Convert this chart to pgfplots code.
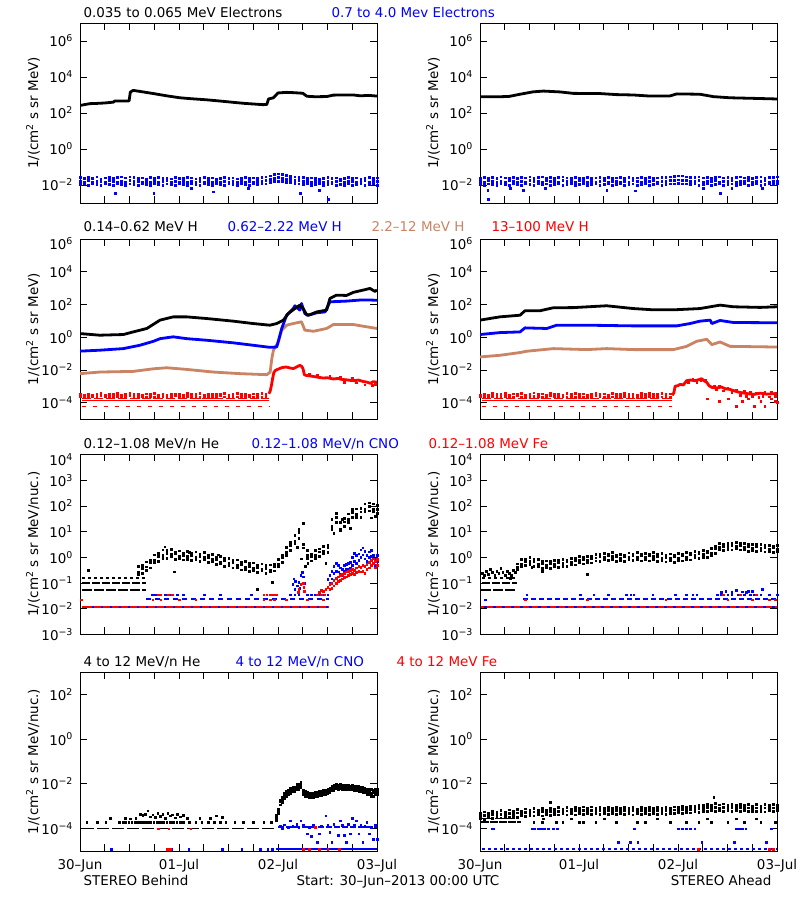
\documentclass[border=0pt]{standalone}
\usepackage{fontspec}
\setmainfont{DejaVu Sans}
\usepackage{pgfplots}
\usepackage{pgfplotstable}
\pgfplotsset{compat=1.18}
\definecolor{brn}{RGB}{202,132,100}
\newcommand{\F}{\fontsize{13.5}{15}\selectfont}
\newcommand{\tl}[1]{\mbox{10\textsuperscript{#1}}}
\newcommand{\tlt}[1]{\raisebox{-5bp}[\height][\depth]{\tl{#1}}}

\pgfplotsset{
 every axis/.append style={scale only axis, width=297bp, height=180bp, anchor=south west,
   xmin=0, xmax=72, xtick={0,6,...,72},
   xminorticks=false, yminorticks=false, tick align=inside, major tick length=7bp,
   xtick pos=both, ytick pos=both, axis line style={line width=0.8bp},
   tick style={line width=0.8bp, black}, tick label style={font=\F},
   yticklabel style={xshift=-3.5bp}, xticklabel style={yshift=-5bp}},
 mydots/.style={only marks, mark=square*, mark size=0.85bp, mark options={solid, line width=0.1pt}},
 mysline/.style={line width=2.8bp, line join=round},
}

\pgfplotstableread{
h a b c
0 .027 .017 .011
1 .024 .015 .012
2 .028 .018 .010
3 .025 .014 .012
4 .029 .016 .011
5 .023 .017 .010
6 .026 .015 .012
7 .028 .018 .011
8 .025 .016 .010
9 .027 .014 .012
10 .030 .017 .011
11 .026 .015 .010
12 .029 .018 .012
13 .027 .016 .011
14 .024 .017 .010
15 .026 .015 .012
16 .023 .016 .011
17 .027 .014 .010
18 .025 .017 .012
19 .028 .015 .011
20 .024 .016 .010
21 .026 .018 .012
22 .023 .015 .011
23 .027 .017 .010
24 .025 .014 .012
25 .024 .016 .011
26 .028 .015 .010
27 .026 .017 .012
28 .023 .014 .011
29 .025 .016 .010
30 .027 .015 .012
31 .024 .017 .011
32 .026 .014 .010
33 .023 .016 .012
34 .025 .015 .011
35 .027 .017 .010
36 .024 .014 .012
37 .026 .016 .011
38 .023 .015 .010
39 .025 .017 .012
40 .028 .014 .011
41 .024 .016 .010
42 .026 .015 .012
43 .025 .017 .011
44 .027 .016 .012
45 .029 .018 .012
46 .034 .021 .014
47 .040 .025 .016
48 .043 .027 .017
49 .039 .024 .016
50 .035 .022 .015
51 .032 .021 .014
52 .030 .019 .013
53 .028 .018 .012
54 .027 .017 .011
55 .025 .016 .012
56 .026 .015 .010
57 .024 .017 .011
58 .023 .016 .012
59 .025 .014 .010
60 .027 .017 .011
61 .024 .015 .012
62 .026 .016 .010
63 .023 .018 .011
64 .025 .015 .010
65 .027 .016 .012
66 .024 .017 .010
67 .026 .014 .011
68 .023 .016 .012
69 .025 .018 .010
70 .028 .015 .011
71 .024 .017 .012
72 .026 .016 .010
}\tOneL

\pgfplotstableread{
h a b c
0 .025 .017 .011
1 .028 .015 .010
2 .024 .018 .012
3 .027 .016 .011
4 .025 .014 .010
5 .029 .017 .012
6 .026 .015 .011
7 .024 .018 .010
8 .027 .016 .012
9 .025 .015 .011
10 .028 .017 .010
11 .026 .014 .012
12 .029 .018 .011
13 .025 .016 .010
14 .027 .017 .012
15 .030 .015 .011
16 .026 .018 .012
17 .028 .016 .010
18 .025 .017 .011
19 .027 .015 .012
20 .029 .018 .010
21 .026 .016 .011
22 .024 .017 .012
23 .028 .015 .010
24 .026 .018 .011
25 .025 .016 .012
26 .027 .014 .010
27 .024 .017 .011
28 .026 .015 .012
29 .028 .016 .010
30 .025 .018 .011
31 .027 .015 .012
32 .024 .017 .010
33 .026 .016 .011
34 .028 .014 .012
35 .025 .017 .010
36 .027 .015 .011
37 .024 .018 .012
38 .026 .016 .010
39 .028 .015 .011
40 .025 .017 .012
41 .027 .016 .010
42 .024 .018 .011
43 .026 .015 .012
44 .028 .017 .010
45 .027 .016 .011
46 .029 .018 .012
47 .031 .019 .012
48 .034 .020 .013
49 .033 .019 .012
50 .030 .018 .012
51 .028 .017 .011
52 .027 .016 .012
53 .029 .018 .010
54 .026 .015 .011
55 .028 .017 .012
56 .025 .016 .010
57 .027 .018 .011
58 .029 .015 .012
59 .026 .017 .010
60 .028 .016 .011
61 .025 .018 .012
62 .027 .015 .010
63 .029 .017 .011
64 .026 .016 .012
65 .028 .018 .010
66 .025 .015 .011
67 .027 .017 .012
68 .030 .016 .010
69 .026 .018 .011
70 .028 .015 .012
71 .027 .017 .011
72 .029 .016 .012
}\tOneR

\pgfplotstableread{
h a b
0 3.4e-4 2.5e-4
1 3.0e-4 2.3e-4
2 3.6e-4 2.6e-4
3 3.1e-4 2.4e-4
4 3.3e-4 2.2e-4
5 3.8e-4 2.7e-4
6 3.0e-4 2.4e-4
7 3.5e-4 2.5e-4
8 3.2e-4 2.3e-4
9 3.7e-4 2.6e-4
10 3.1e-4 2.4e-4
11 3.4e-4 2.2e-4
12 3.9e-4 2.7e-4
13 3.2e-4 2.5e-4
14 3.5e-4 2.3e-4
15 3.0e-4 2.6e-4
16 3.6e-4 2.4e-4
17 3.3e-4 2.5e-4
18 3.8e-4 2.3e-4
19 3.1e-4 2.6e-4
20 3.4e-4 2.4e-4
21 3.0e-4 2.2e-4
22 3.6e-4 2.5e-4
23 3.3e-4 2.7e-4
24 3.5e-4 2.4e-4
25 3.1e-4 2.3e-4
26 3.7e-4 2.6e-4
27 3.2e-4 2.4e-4
28 3.4e-4 2.5e-4
29 3.9e-4 2.3e-4
30 3.1e-4 2.6e-4
31 3.5e-4 2.4e-4
32 3.2e-4 2.2e-4
33 3.6e-4 2.5e-4
34 3.3e-4 2.7e-4
35 3.8e-4 2.4e-4
36 3.0e-4 2.3e-4
37 3.4e-4 2.6e-4
38 3.7e-4 2.4e-4
39 3.2e-4 2.5e-4
40 3.5e-4 2.3e-4
41 3.1e-4 2.6e-4
42 3.6e-4 2.4e-4
43 3.3e-4 2.5e-4
44 3.8e-4 2.3e-4
45 3.4e-4 2.6e-4
}\tTwoLr

\pgfplotstableread{
h a b
0 3.1e-4 2.4e-4
1 3.5e-4 2.6e-4
2 3.0e-4 2.3e-4
3 3.7e-4 2.5e-4
4 3.2e-4 2.4e-4
5 3.4e-4 2.2e-4
6 3.9e-4 2.6e-4
7 3.1e-4 2.5e-4
8 3.6e-4 2.3e-4
9 3.3e-4 2.7e-4
10 3.8e-4 2.4e-4
11 3.0e-4 2.5e-4
12 3.5e-4 2.3e-4
13 4.2e-4 2.6e-4
14 3.2e-4 2.4e-4
15 3.6e-4 2.2e-4
16 3.1e-4 2.5e-4
17 3.8e-4 2.7e-4
18 3.3e-4 2.4e-4
19 3.5e-4 2.3e-4
20 3.0e-4 2.6e-4
21 3.7e-4 2.4e-4
22 3.4e-4 2.5e-4
23 3.9e-4 2.3e-4
24 3.2e-4 2.6e-4
25 3.6e-4 2.4e-4
26 3.1e-4 2.2e-4
27 3.5e-4 2.5e-4
28 3.8e-4 2.7e-4
29 3.3e-4 2.4e-4
30 3.6e-4 2.3e-4
31 3.0e-4 2.6e-4
32 4.0e-4 2.4e-4
33 3.4e-4 2.5e-4
34 3.2e-4 2.3e-4
35 3.7e-4 2.6e-4
36 3.3e-4 2.4e-4
37 3.6e-4 2.5e-4
38 3.1e-4 2.2e-4
39 3.9e-4 2.6e-4
40 3.4e-4 2.4e-4
41 3.7e-4 2.5e-4
42 3.2e-4 2.3e-4
43 3.5e-4 2.6e-4
44 3.8e-4 2.4e-4
45 3.3e-4 2.5e-4
46 3.6e-4 2.3e-4
}\tTwoRr

\pgfplotstableread{
h a b c
14 .45 .28 .22
15 .50 .38 .24
16 .68 .44 .33
17 .78 .62 .40
18 1.3 .80 .64
19 1.5 1.15 .72
20 2.0 1.2 .95
21 1.9 1.45 .92
22 2.1 1.35 1.1
23 1.7 1.4 .88
24 1.85 1.15 .92
25 1.5 1.25 .82
26 1.8 1.1 .88
27 1.45 1.2 .78
28 1.7 1.05 .84
29 1.35 1.1 .70
30 1.6 1.0 .86
31 1.3 1.02 .66
32 1.38 .85 .68
33 1.05 .86 .54
34 1.12 .68 .58
35 .92 .75 .46
36 .96 .60 .50
37 .80 .64 .40
38 .82 .52 .43
39 .68 .54 .34
40 .70 .43 .36
41 .60 .47 .30
42 .63 .40 .32
43 .53 .42 .27
44 .58 .37 .31
45 .50 .39 .25
46 .53 .34 .28
47 .58 .46 .31
48 .86 .55 .44
49 1.25 1.0 .66
50 2.5 1.6 1.25
51 4.0 3.1 1.9
52 7.5 4.5 3.5
53 13 9.5 5.5
54 21 3.3 2.4
55 1.9 1.2 .95
56 1.4 1.15 .75
57 1.9 1.2 .95
58 2.2 1.7 1.1
59 2.7 1.8 1.45
60 3.0 2.5 1.6
61 30 17 13
62 52 37 23
63 24 13 11
64 33 25 16
65 50 30 23
66 76 58 38
67 80 47 38
68 82 61 38
69 125 80 63
70 135 100 66
71 125 80 63
72 105 78 52
}\tThreeL

\pgfplotstableread{
h a b
60 0.14 0.07
60.5 0.2 0.1
61 0.3 0.15
61.5 0.45 0.25
62 0.6 0.3
62.5 0.5 0.28
63 0.4 0.22
63.5 0.35 0.2
64 0.5 0.3
64.5 0.55 0.35
65 0.6 0.35
65.5 0.65 0.4
66 1.0 0.5
66.5 1.5 0.7
67 1.2 0.6
67.5 1.4 0.8
68 2.0 1.0
68.5 2.4 1.3
69 1.8 0.9
69.5 1.2 0.7
70 1.7 1.0
70.5 1.9 1.1
71 1.2 0.6
71.5 0.9 0.5
72 1.2 0.7
}\tThreeLb

\pgfplotstableread{
h a b
60.5 0.09 0.06
61 0.1 0.065
61.5 0.13 0.08
62 0.16 0.1
62.5 0.18 0.12
63 0.2 0.13
63.5 0.22 0.15
64 0.25 0.17
64.5 0.28 0.18
65 0.3 0.2
65.5 0.32 0.22
66 0.35 0.25
66.5 0.33 0.23
67 0.4 0.26
67.5 0.45 0.3
68 0.42 0.28
68.5 0.5 0.3
69 0.45 0.25
69.5 0.55 0.35
70 0.65 0.4
70.5 0.8 0.5
71 0.9 0.6
71.5 0.7 0.4
72 0.85 0.5
}\tThreeLr

\pgfplotstableread{
h a b c
9 .58 .42 .34
10 .84 .58 .45
11 .88 .72 .50
12 1.0 .70 .54
13 .85 .69 .46
14 .86 .57 .47
15 .72 .60 .39
16 .76 .52 .41
17 .74 .60 .39
18 .81 .57 .46
19 .78 .64 .42
20 .85 .60 .47
21 .83 .69 .45
22 .95 .67 .53
23 .96 .78 .52
24 1.09 .77 .62
25 1.05 .85 .57
26 1.15 .82 .66
27 1.16 .95 .63
28 1.35 .97 .76
29 1.33 1.08 .72
30 1.50 1.06 .84
31 1.41 1.16 .78
32 1.58 1.10 .88
33 1.30 1.08 .72
34 1.38 .95 .76
35 1.30 1.12 .72
36 1.54 1.03 .84
37 1.40 1.19 .78
38 1.58 1.08 .88
39 1.37 1.17 .76
40 1.51 1.04 .83
41 1.36 1.16 .76
42 1.58 1.09 .88
43 1.34 1.15 .74
44 1.45 .99 .79
45 1.23 1.06 .68
46 1.40 .94 .77
47 1.24 1.07 .67
48 1.46 .99 .80
49 1.35 1.17 .76
50 1.58 1.08 .88
51 1.48 1.27 .82
52 1.79 1.23 .98
53 1.66 1.43 .93
54 1.90 1.32 1.04
55 1.85 1.58 1.05
56 2.25 1.51 1.2
57 2.7 2.3 1.5
58 3.5 2.5 2.0
59 3.4 2.8 1.9
60 3.7 2.7 2.1
61 3.7 3.0 2.0
62 4.0 2.9 2.3
63 3.7 3.0 2.0
64 3.6 2.6 2.1
65 3.3 2.7 1.8
66 3.3 2.4 1.9
67 3.2 2.6 1.75
68 3.2 2.3 1.85
69 3.0 2.5 1.7
70 3.1 2.2 1.8
71 2.9 2.4 1.65
72 3.0 2.2 1.75
}\tThreeR

\pgfplotstableread{
h a b c
47.5 4e-4 2.5e-4 3.2e-4
48 8e-4 5e-4 6.5e-4
48.5 1.6e-3 1.2e-3 2.0e-3
49 2.7e-3 1.5e-3 2.1e-3
49.5 3.0e-3 2.3e-3 3.8e-3
50 4.8e-3 2.9e-3 3.6e-3
50.5 4.6e-3 3.6e-3 5.6e-3
51 6.4e-3 3.9e-3 5.0e-3
51.5 6.0e-3 4.7e-3 7.5e-3
52 7.6e-3 4.8e-3 6.0e-3
52.5 7.4e-3 5.7e-3 9.5e-3
53 9.8e-3 5.8e-3 7.5e-3
53.5 1.2e-2 6.8e-3 9e-3
54 5.5e-3 3.6e-3 4.5e-3
54.5 4.8e-3 2.9e-3 3.7e-3
55 3.7e-3 2.9e-3 4.4e-3
55.5 4.1e-3 2.5e-3 3.2e-3
56 3.3e-3 2.6e-3 4.0e-3
56.5 4.0e-3 2.6e-3 3.2e-3
57 3.7e-3 2.9e-3 4.5e-3
57.5 4.2e-3 2.8e-3 3.4e-3
58 3.9e-3 3.1e-3 4.8e-3
58.5 4.8e-3 3.1e-3 3.8e-3
59 4.5e-3 3.4e-3 5.3e-3
59.5 5.4e-3 3.4e-3 4.2e-3
60 5.1e-3 3.9e-3 6.0e-3
60.5 6.9e-3 4.4e-3 5.4e-3
61 7.0e-3 5.2e-3 8.5e-3
61.5 8.6e-3 5.4e-3 6.6e-3
62 7.9e-3 6.2e-3 9.5e-3
62.5 8.7e-3 5.8e-3 7.0e-3
63 7.9e-3 6.4e-3 9.8e-3
63.5 8.8e-3 5.8e-3 7.1e-3
64 7.5e-3 6.0e-3 9.2e-3
64.5 8.9e-3 5.8e-3 7.0e-3
65 7.4e-3 5.7e-3 9.0e-3
65.5 8.4e-3 5.6e-3 6.8e-3
66 7.4e-3 5.7e-3 9.0e-3
66.5 8.1e-3 5.0e-3 6.3e-3
67 6.5e-3 5.2e-3 8.2e-3
67.5 7.8e-3 4.6e-3 5.8e-3
68 6.0e-3 4.7e-3 7.5e-3
68.5 7.3e-3 4.4e-3 5.6e-3
69 5.5e-3 4.2e-3 6.8e-3
69.5 6.0e-3 3.3e-3 4.3e-3
70 4.6e-3 3.4e-3 5.8e-3
70.5 6.0e-3 2.9e-3 3.9e-3
71 4.2e-3 2.9e-3 5.3e-3
71.5 6.0e-3 3.3e-3 4.4e-3
72 4.6e-3 3.6e-3 5.7e-3
}\tFourL

\pgfplotstableread{
h a b c
0 5.0e-4 3.6e-4 2.9e-4
1 5.8e-4 4.1e-4 2.7e-4
2 5.0e-4 3.9e-4 3.1e-4
3 6.3e-4 4.4e-4 2.9e-4
4 5.4e-4 4.2e-4 3.3e-4
5 6.6e-4 4.6e-4 3.1e-4
6 5.8e-4 4.4e-4 3.5e-4
7 7.1e-4 4.9e-4 3.2e-4
8 6.1e-4 4.7e-4 3.7e-4
9 7.3e-4 5.2e-4 3.4e-4
10 6.4e-4 5.0e-4 3.9e-4
11 7.8e-4 5.5e-4 3.6e-4
12 6.8e-4 5.3e-4 4.1e-4
13 8.1e-4 5.8e-4 3.8e-4
14 7.0e-4 5.5e-4 4.3e-4
15 8.4e-4 6.0e-4 3.9e-4
16 7.2e-4 5.7e-4 4.4e-4
17 8.6e-4 6.2e-4 4.0e-4
18 7.5e-4 5.8e-4 4.6e-4
19 8.9e-4 6.3e-4 4.2e-4
20 7.7e-4 6.0e-4 4.7e-4
21 9.0e-4 6.4e-4 4.2e-4
22 7.9e-4 6.1e-4 4.8e-4
23 9.4e-4 6.6e-4 4.3e-4
24 8.2e-4 6.3e-4 4.9e-4
25 9.6e-4 6.8e-4 4.4e-4
26 8.4e-4 6.5e-4 5.1e-4
27 9.8e-4 7.0e-4 4.6e-4
28 8.5e-4 6.5e-4 5.1e-4
29 9.4e-4 6.8e-4 4.5e-4
30 8.3e-4 6.4e-4 5.0e-4
31 9.5e-4 6.7e-4 4.4e-4
32 8.2e-4 6.3e-4 4.9e-4
33 9.3e-4 6.7e-4 4.4e-4
34 8.1e-4 6.3e-4 5.0e-4
35 9.4e-4 6.7e-4 4.4e-4
36 8.2e-4 6.3e-4 4.9e-4
37 9.2e-4 6.6e-4 4.3e-4
38 8.0e-4 6.2e-4 4.9e-4
39 9.1e-4 6.6e-4 4.4e-4
40 8.1e-4 6.3e-4 4.9e-4
41 9.3e-4 6.7e-4 4.4e-4
42 8.2e-4 6.3e-4 5.0e-4
43 9.4e-4 6.8e-4 4.5e-4
44 8.3e-4 6.4e-4 5.0e-4
45 9.5e-4 6.8e-4 4.5e-4
46 8.6e-4 6.6e-4 5.1e-4
47 9.8e-4 7.1e-4 4.8e-4
48 8.9e-4 6.8e-4 5.3e-4
49 1.02e-3 7.4e-4 5.0e-4
50 9.3e-4 7.1e-4 5.5e-4
51 1.05e-3 7.7e-4 5.2e-4
52 1.0e-3 7.6e-4 5.8e-4
53 1.15e-3 8.4e-4 5.7e-4
54 1.1e-3 8.3e-4 6.3e-4
55 1.3e-3 8.9e-4 6.1e-4
56 1.16e-3 8.7e-4 6.6e-4
57 1.35e-3 9.2e-4 6.3e-4
58 1.18e-3 8.8e-4 6.7e-4
59 1.33e-3 9.2e-4 6.2e-4
60 1.16e-3 8.8e-4 6.7e-4
61 1.3e-3 9.1e-4 6.2e-4
62 1.14e-3 8.6e-4 6.5e-4
63 1.27e-3 9.0e-4 6.2e-4
64 1.11e-3 8.5e-4 6.4e-4
65 1.25e-3 8.8e-4 6.1e-4
66 1.08e-3 8.3e-4 6.3e-4
67 1.23e-3 8.7e-4 6.0e-4
68 1.08e-3 8.3e-4 6.3e-4
69 1.25e-3 8.7e-4 5.8e-4
70 1.1e-3 8.3e-4 6.4e-4
71 1.25e-3 8.7e-4 5.9e-4
72 1.1e-3 8.3e-4 6.4e-4
}\tFourR

\begin{document}
\begin{tikzpicture}[font=\F]
\path[use as bounding box, fill=white] (0,0) rectangle (800bp,900bp);

% ---------------- Row 1 left
\begin{axis}[at={(80bp,697bp)}, ymode=log, ymin=1e-3, ymax=1e7, ytick={1e-2,1,1e2,1e4,1e6},
   yticklabels={\tl{−2},\tl{0},\tl{2},\tl{4},\tl{6}}, xticklabels={}]
\addplot[mydots, blue] table[x=h,y=a]{\tOneL};
\addplot[mydots, blue] table[x=h,y=b]{\tOneL};
\addplot[mydots, blue] table[x=h,y=c]{\tOneL};
\addplot[mydots, blue] coordinates {(8.5,0.0035)(17.8,0.0035)(27,0.0065)(32.3,0.0043)(40.8,0.0065)(53.3,0.0035)(58,0.0053)(60.2,0.0016)};
\addplot[black, mysline] coordinates {(0,260)(1,290)(2.4,330)(4,340)(6,360)(8.1,400)(8.4,460)(11.9,470)(12.2,1450)(12.9,1800)(14,1650)(17.8,1200)(21,900)(24.2,700)(27,620)(30.7,540)(34,460)(37.2,390)(40,340)(44.4,290)(45.3,300)(45.7,600)(46.9,700)(48,1300)(50,1400)(51.7,1350)(54,1250)(55,850)(57,800)(59.8,820)(61.4,980)(63,1000)(66.3,1000)(68,900)(70,950)(72,870)};
\end{axis}

% ---------------- Row 1 right
\begin{axis}[at={(480bp,697bp)}, ymode=log, ymin=1e-3, ymax=1e7, ytick={1e-2,1,1e2,1e4,1e6},
   yticklabels={\tl{−2},\tl{0},\tl{2},\tl{4},\tl{6}}, xticklabels={}]
\addplot[mydots, blue] table[x=h,y=a]{\tOneR};
\addplot[mydots, blue] table[x=h,y=b]{\tOneR};
\addplot[mydots, blue] table[x=h,y=c]{\tOneR};
\addplot[mydots, blue] coordinates {(2,0.0016)(1.8,0.0052)(7.3,0.0065)(10.5,0.0052)(15.8,0.0065)(30.7,0.0052)(37.6,0.0050)(54.1,0.0065)(58.2,0.0035)(61,0.0065)(68.3,0.007)};
\addplot[black, mysline] coordinates {(0,800)(2,790)(4.8,800)(7,830)(9.7,1100)(12.9,1500)(15.4,1650)(19.4,1480)(22.6,1230)(29.1,1200)(33.1,1050)(37.2,1000)(41.2,870)(46,880)(47.7,1150)(53.3,1100)(56.6,810)(60.6,700)(66.3,650)(72,600)};
\end{axis}

% ---------------- Row 2 left
\begin{axis}[at={(80bp,481bp)}, ymode=log, ymin=1e-5, ymax=1e6, ytick={1e-4,1e-2,1,1e2,1e4,1e6},
   yticklabels={\tl{−4},\tl{−2},\tl{0},\tl{2},\tl{4},\tlt{6}}, xticklabels={}]
\addplot[mydots, red] table[x=h,y=a]{\tTwoLr};
\addplot[mydots, red] table[x=h,y=b]{\tTwoLr};
\addplot[red, line width=1.2bp, dash pattern=on 9bp off 3bp] coordinates {(0.4,1.85e-4)(45.8,1.85e-4)};
\addplot[red, line width=1.2bp] coordinates {(0.4,1.3e-4)(45.8,1.3e-4)};
\addplot[red, line width=1.2bp, dash pattern=on 4bp off 7bp] coordinates {(0.4,6e-5)(45.8,6e-5)};
\addplot[red, mysline] coordinates {(45.8,3.5e-4)(46.1,5e-4)(46.4,1.1e-3)(46.7,3e-3)(47.0,7e-3)(47.4,9.5e-3)(48,1.1e-2)(49,1.4e-2)(50,1.5e-2)(51,1.3e-2)(51.7,1.2e-2)(52.5,1.5e-2)(53.3,1.9e-2)(53.8,1.6e-2)(54.1,1.1e-2)(54.4,5e-3)(55,4.5e-3)(56,4.2e-3)(57,3.8e-3)(58.2,3.4e-3)(59,3.2e-3)(60,3.3e-3)(61.4,2.8e-3)(62.5,3e-3)(63.5,2.6e-3)(64.5,2.5e-3)(65.5,2.3e-3)(66.5,2.2e-3)(67.5,2.4e-3)(68.5,2e-3)(69.5,1.8e-3)(70.5,1.5e-3)(71,1.9e-3)(72,1.8e-3)};
\addplot[mydots, red] coordinates {(55.5,6e-3)(57.5,5e-3)(60.5,4.5e-3)(63,3.8e-3)(66,3.2e-3)(69,1.3e-3)(70.8,1.2e-3)(71.5,1.4e-3)(64,1.9e-3)(67,1.7e-3)};
\addplot[brn, mysline] coordinates {(0,0.0059)(4.8,0.0074)(12.9,0.0081)(17.8,0.0117)(21,0.0135)(25.9,0.0107)(32.3,0.0074)(38.8,0.0059)(45.3,0.0051)(46.1,0.0074)(46.5,0.049)(46.9,0.16)(48.1,0.51)(48.9,2.7)(50.1,5.4)(51.7,6.8)(53.7,8.7)(54.5,2.7)(56.6,2.3)(59.8,3.4)(61.4,5.9)(66.3,5.9)(69.5,4.3)(72,3.4)};
\addplot[blue, mysline] coordinates {(0,0.14)(4.8,0.16)(10.5,0.2)(14.5,0.32)(17.8,0.56)(19.4,0.81)(22.6,1.05)(25.9,0.81)(30.7,0.65)(37.2,0.45)(42,0.32)(46,0.24)(47.7,0.25)(48.9,3.4)(50.1,22)(51.7,56)(52.1,83)(53.3,45)(53.7,115)(54.5,28)(55.4,22)(57.4,31)(59.4,35)(60.6,145)(64.6,160)(67.9,186)(70.3,186)(72,180)};
\addplot[black, mysline] coordinates {(0,1.66)(4.8,1.32)(10.5,1.45)(12.9,2.1)(16.2,3.4)(19.4,11)(22.6,17.4)(25.9,17.4)(30.7,13.8)(37.2,9.5)(42,6.8)(46,5.4)(47.7,6.8)(49.3,11)(50.5,28)(52.1,56)(53.3,91)(54.1,56)(55,22)(55.8,24)(57.4,35)(59.8,45)(60.6,234)(62.2,370)(64.6,355)(66.3,550)(68.7,760)(70.3,950)(71.5,630)(72,760)};
\end{axis}

% ---------------- Row 2 right
\begin{axis}[at={(480bp,481bp)}, ymode=log, ymin=1e-5, ymax=1e6, ytick={1e-4,1e-2,1,1e2,1e4,1e6},
   yticklabels={\tl{−4},\tl{−2},\tl{0},\tl{2},\tl{4},\tlt{6}}, xticklabels={}]
\addplot[mydots, red] table[x=h,y=a]{\tTwoRr};
\addplot[mydots, red] table[x=h,y=b]{\tTwoRr};
\addplot[red, line width=1.2bp, dash pattern=on 9bp off 3bp] coordinates {(0.4,1.85e-4)(46.5,1.85e-4)};
\addplot[red, line width=1.2bp] coordinates {(0.4,1.3e-4)(46.5,1.3e-4)};
\addplot[red, line width=1.2bp, dash pattern=on 4bp off 7bp] coordinates {(0.4,6e-5)(46.5,6e-5)};
\addplot[red, mysline] coordinates {(46.6,2.8e-4)(47.0,4e-4)(47.3,1.0e-3)(48,1.1e-3)(48.5,1.3e-3)(49.3,1.2e-3)(50.1,2.2e-3)(51,2.4e-3)(52,2.2e-3)(53,2.5e-3)(53.7,2.9e-3)(54.3,2.2e-3)(55,1.7e-3)(55.5,1.1e-3)(56.2,8.5e-4)(57.5,8e-4)(58.5,9e-4)(59.5,7e-4)(60.5,6.5e-4)(61.4,5.5e-4)(62.5,4.5e-4)(63.5,4e-4)(65,3.5e-4)(66.5,3.2e-4)(68,3.8e-4)(69.5,3.3e-4)(71,3.5e-4)(72,3.6e-4)};
\addplot[mydots, red] coordinates {(50.5,1.8e-3)(51.5,2.8e-3)(52.5,1.9e-3)(53.5,2.2e-3)(54.6,2.6e-3)(56.8,1.1e-3)(57.2,6.5e-4)(58,1.0e-3)(59,5.5e-4)(60,8.5e-4)(61,4.5e-4)(62,6e-4)(63,3e-4)(64,5e-4)(64.5,2.6e-4)(65.5,4.6e-4)(66,2.5e-4)(67,4.2e-4)(67.5,2.3e-4)(68.5,2.6e-4)(69,4.5e-4)(70,2.4e-4)(70.5,4.3e-4)(71.5,2.5e-4)(55,1.8e-4)(58,1.3e-4)(60.2,1.8e-4)(62,6e-5)(63.5,1.3e-4)(65,1.8e-4)(66.5,6e-5)(68,1.3e-4)(69,6e-5)(70.5,1.8e-4)(71.5,1.3e-4)(72,1.1e-4)};
\addplot[brn, mysline] coordinates {(0,0.062)(4.8,0.078)(9.7,0.115)(11.3,0.138)(17.8,0.2)(25.9,0.174)(30.7,0.2)(37.2,0.174)(46.9,0.174)(50.1,0.275)(52.5,0.56)(55,0.74)(56.2,0.35)(58.2,0.51)(60.6,0.275)(72,0.25)};
\addplot[blue, mysline] coordinates {(0,1.45)(4.8,1.9)(9.7,2.1)(10.9,3.7)(16.2,3.4)(18.6,5.4)(25.9,5.4)(37.2,4.9)(47.7,4.9)(50.9,6.8)(53.3,9.5)(55.8,11)(56.2,6.8)(58.2,10.5)(61.4,7.9)(72,7.6)};
\addplot[black, mysline] coordinates {(0,11)(4.8,17.4)(9.7,22)(10.9,41)(14.5,41)(17.8,63)(22.6,64)(30.7,83)(37.2,56)(42,47)(47.7,48)(53.3,56)(58.2,91)(61.4,72)(67.9,66)(72,72)};
\end{axis}

% ---------------- Row 3 left
\begin{axis}[at={(80bp,265.5bp)}, ymode=log, ymin=1e-3, ymax=1e4, ytick={1e-3,1e-2,1e-1,1,1e1,1e2,1e3,1e4},
   yticklabels={\tl{−3},\tl{−2},\tl{−1},\tl{0},\tl{1},\tl{2},\tl{3},\tlt{4}}, xticklabels={}]
\addplot[red, line width=2bp] coordinates {(0.6,0.0118)(60.3,0.0118)};
\addplot[blue, line width=2bp, dash pattern=on 2bp off 7bp] coordinates {(3,0.0118)(60.3,0.0118)};
\addplot[blue, line width=2bp, dash pattern=on 5bp off 4bp] coordinates {(16,0.023)(60.3,0.023)};
\addplot[mydots, red] coordinates {(0.2,0.023)(17.6,0.023)(19.5,0.023)(24,0.023)(28,0.023)(44.5,0.023)(46,0.023)(47,0.023)(50,0.023)(55,0.023)(59,0.023)};
\addplot[mydots, blue] coordinates {(17.4,0.036)(18,0.036)(18.6,0.036)(20.6,0.036)(22,0.036)(23.5,0.036)(25,0.036)(30,0.036)(34,0.036)(41.5,0.036)(51,0.036)(52,0.036)(53,0.036)(55,0.036)(56,0.036)(57,0.036)(58,0.036)(59,0.036)(60,0.036)};
\addplot[mydots, red] coordinates {(19,0.036)(19.5,0.036)(21.3,0.036)(22.3,0.036)(44.5,0.036)(45.2,0.036)(46,0.036)(46.8,0.036)(47.5,0.036)(57.5,0.036)(58.5,0.036)(59.3,0.036)};
\addplot[black, line width=2bp, dash pattern=on 8bp off 2bp] coordinates {(0.6,0.105)(16,0.105)};
\addplot[black, line width=2bp, dash pattern=on 10bp off 2bp] coordinates {(0.6,0.054)(16,0.054)};
\addplot[black, line width=1.6bp, dash pattern=on 3bp off 3bp] coordinates {(0.6,0.155)(16,0.155)};
\addplot[mydots, black] table[x=h,y=a]{\tThreeL};
\addplot[mydots, black] table[x=h,y=b]{\tThreeL};
\addplot[mydots, black] table[x=h,y=c]{\tThreeL};
\addplot[mydots, black] coordinates {(2,0.33)(22.8,0.28)(43,0.058)(46.6,0.11)(54.5,0.45)(55.2,0.6)(53.6,0.9)(52.6,2.5)(59.5,0.6)(61.5,9)(63.5,30)(65.5,14)(70.5,35)(71.5,40)(20.5,2.6)(26.5,1.6)(33.5,1.3)};
\addplot[mydots, blue] coordinates {(51.5,0.09)(51.8,0.15)(52.2,0.12)(52.6,0.08)(53,0.11)(53.5,0.2)(53.8,0.26)(54.1,0.18)(54.3,0.1)(52,0.06)(53.2,0.065)};
\addplot[mydots, blue] table[x=h,y=a]{\tThreeLb};
\addplot[mydots, blue] table[x=h,y=b]{\tThreeLb};
\addplot[mydots, red] coordinates {(53,0.06)(53.5,0.09)(54,0.1)(54.2,0.07)(52.8,0.045)(54.4,0.05)(58,0.045)(58.5,0.055)(59,0.05)(59.5,0.06)(60,0.07)};
\addplot[mydots, red] table[x=h,y=a]{\tThreeLr};
\addplot[mydots, red] table[x=h,y=b]{\tThreeLr};
\end{axis}

% ---------------- Row 3 right
\begin{axis}[at={(480bp,265.5bp)}, ymode=log, ymin=1e-3, ymax=1e4, ytick={1e-3,1e-2,1e-1,1,1e1,1e2,1e3,1e4},
   yticklabels={\tl{−3},\tl{−2},\tl{−1},\tl{0},\tl{1},\tl{2},\tl{3},\tlt{4}}, xticklabels={}]
\addplot[red, line width=2bp] coordinates {(0.3,0.0118)(72,0.0118)};
\addplot[blue, line width=2bp, dash pattern=on 3bp off 6bp] coordinates {(1,0.0118)(72,0.0118)};
\addplot[blue, line width=2bp, dash pattern=on 5bp off 3bp] coordinates {(10.5,0.023)(72,0.023)};
\addplot[mydots, blue] coordinates {(1.2,0.023)};
\addplot[mydots, red] coordinates {(11,0.023)(26,0.023)(45,0.023)(60,0.023)(66,0.023)(70,0.023)(71.5,0.023)};
\addplot[mydots, blue] coordinates {(11.3,0.036)(24.2,0.036)(27.5,0.036)(31,0.036)(35.4,0.036)(36.5,0.036)(37.2,0.036)(41.8,0.036)(47.3,0.036)(50,0.036)(51.5,0.036)(52.5,0.036)(57.5,0.036)(58.5,0.036)(60,0.036)(61,0.036)(62.5,0.036)(64,0.036)(65.5,0.036)(66.5,0.036)(68,0.036)(70,0.036)(72,0.036)(58.5,0.045)(59.5,0.05)(61,0.045)(62,0.055)(63.5,0.047)(64.5,0.045)(66,0.048)(68.4,0.06)(65,0.05)};
\addplot[mydots, red] coordinates {(59,0.036)(63,0.036)(67,0.036)};
\addplot[black, line width=2bp, dash pattern=on 8bp off 2bp] coordinates {(0.6,0.105)(9,0.105)};
\addplot[black, line width=2bp, dash pattern=on 10bp off 2bp] coordinates {(0.3,0.054)(8.5,0.054)};
\addplot[black, line width=1.6bp, dash pattern=on 3bp off 3bp] coordinates {(0.6,0.155)(9,0.155)};
\addplot[mydots, black] coordinates {(0.5,0.25)(1,0.2)(1.5,0.3)(2,0.22)(2.5,0.35)(3,0.26)(3.5,0.2)(4,0.3)(4.5,0.24)(5,0.38)(5.5,0.27)(6,0.21)(6.5,0.3)(7,0.25)(7.5,0.2)(8,0.33)(8.5,0.26)(7.2,0.16)(15,0.29)(26,0.22)(12.5,0.43)};
\addplot[mydots, black] table[x=h,y=a]{\tThreeR};
\addplot[mydots, black] table[x=h,y=b]{\tThreeR};
\addplot[mydots, black] table[x=h,y=c]{\tThreeR};
\end{axis}

% ---------------- Row 4 left
\begin{axis}[at={(80bp,49bp)}, height=179bp, ymode=log, ymin=1e-5, ymax=1e3, ytick={1e-4,1e-2,1,1e2},
   yticklabels={\tl{−4},\tl{−2},\tl{0},\tl{2}},
   xticklabels={30–Jun,,,,01–Jul,,,,02–Jul,,,,03–Jul}]
\addplot[black, line width=1.4bp, dash pattern=on 12bp off 3bp] coordinates {(0.5,1e-4)(47.5,1e-4)};
\addplot[mydots, black] coordinates {(1.6,2e-4)(4.2,2e-4)(6.2,2e-4)(7.3,3e-4)(9.5,2e-4)(10.3,2e-4)(11,2e-4)(11.8,2e-4)(12.5,2e-4)(13.3,2e-4)(14,2e-4)(14.8,2e-4)(15.5,2e-4)(16.3,2e-4)(17,2e-4)(17.8,2e-4)(18.6,2e-4)(19.4,2e-4)(20.2,2e-4)(21,2e-4)(21.8,2e-4)(22.6,2e-4)(23.4,2e-4)(24.2,2e-4)(25,2e-4)(26.5,2e-4)(28,2e-4)(29.5,2e-4)(31,2e-4)(32.5,2e-4)(34,2e-4)(35.3,2e-4)(37.5,2e-4)(39.5,2e-4)(42,2e-4)(44.5,2e-4)(46.3,2e-4)(14.6,4.6e-4)(15.2,4e-4)(15.8,4.4e-4)(16.4,6.5e-4)(17,3.5e-4)(17.6,4.2e-4)(18.2,3.2e-4)(18.8,4.8e-4)(19.4,3.6e-4)(20,4.4e-4)(20.6,3e-4)(21.2,5e-4)(21.8,3.8e-4)(22.4,4.2e-4)(23,3.1e-4)(23.6,4.6e-4)(24.2,3.5e-4)(25,4e-4)(26,3e-4)(29,3e-4)(31.5,3e-4)(33,3.9e-4)(34.5,3.3e-4)(11,3e-4)(12.2,2.8e-4)(13.5,3e-4)};
\addplot[mydots, black] table[x=h,y=a]{\tFourL};
\addplot[mydots, black] table[x=h,y=b]{\tFourL};
\addplot[mydots, black] table[x=h,y=c]{\tFourL};
\addplot[blue, line width=1.4bp, dash pattern=on 6bp off 2bp] coordinates {(48,1.2e-4)(72,1.2e-4)};
\addplot[blue, line width=1.6bp] coordinates {(47.5,1.2e-5)(72,1.2e-5)};
\addplot[mydots, blue] coordinates {(48.5,1.3e-4)(49,1.1e-4)(49.5,1.5e-4)(50.5,1.2e-4)(51,2.3e-4)(51.5,1.3e-4)(52.5,1.6e-4)(53,1.2e-4)(53.5,2.3e-4)(54,1.4e-4)(55,6e-5)(55.5,1.2e-4)(56,4.5e-5)(56.5,1.5e-4)(57.5,2.6e-5)(58,6e-5)(58.5,1.3e-4)(59.5,3.9e-4)(60,1.5e-4)(60.5,7e-5)(61,2.6e-5)(61.5,1.6e-4)(62.5,5e-5)(63,2.3e-4)(63.5,1.4e-4)(64,5e-5)(64.5,2.6e-5)(65,1.6e-4)(65.5,6e-5)(66,3e-4)(66.5,1.4e-4)(67,2.3e-4)(67.5,6e-5)(68,1.5e-4)(68.5,2.6e-5)(69,1.3e-4)(69.5,2e-4)(70,6e-5)(70.5,1.2e-4)(71,3.5e-5)(71.5,1.4e-4)(72,3.5e-5)(7.5,1.2e-5)(21.3,1.2e-5)(22.2,1.2e-5)(26.3,1.2e-5)(34.5,1.2e-5)(39.2,1.2e-5)(43.6,1.2e-5)(45.5,1.2e-5)(46.5,1.2e-5)};
\addplot[mydots, red] coordinates {(21.1,1.2e-5)(21.8,1.2e-5)(19,1e-4)(21.5,1e-4)(26.8,1e-4)(54,1.2e-5)(55.5,1.2e-5)(58,1.2e-5)(60,1.2e-5)(62.8,1.2e-5)(57,1.2e-4)};
\end{axis}

% ---------------- Row 4 right
\begin{axis}[at={(480bp,49bp)}, height=179bp, ymode=log, ymin=1e-5, ymax=1e3, ytick={1e-4,1e-2,1,1e2},
   yticklabels={\tl{−4},\tl{−2},\tl{0},\tl{2}},
   xticklabels={30–Jun,,,,01–Jul,,,,02–Jul,,,,03–Jul}]
\addplot[black, line width=1.6bp, dash pattern=on 6bp off 1bp] coordinates {(0.3,2.8e-4)(8.5,2.8e-4)};
\addplot[black, line width=1.6bp, dash pattern=on 8bp off 1bp] coordinates {(0.3,2e-4)(10,2e-4)};
\addplot[mydots, black] coordinates {(13,2e-4)(15,2e-4)(18.5,2e-4)(20,2e-4)(24,2e-4)(25,2e-4)(28,2e-4)(33,2e-4)(38,2e-4)(40,2e-4)(46,2e-4)(50,2e-4)(53,2e-4)(56,2e-4)(60,2e-4)(64,2e-4)(68,2e-4)(71.5,2e-4)(15.3,2.8e-4)(22,2.8e-4)(30,2.8e-4)(43,2.8e-4)(55,2.8e-4)(62,2.8e-4)(67,2.8e-4)(56.6,2.5e-3)(17,1.5e-3)};
\addplot[mydots, black] table[x=h,y=a]{\tFourR};
\addplot[mydots, black] table[x=h,y=b]{\tFourR};
\addplot[mydots, black] table[x=h,y=c]{\tFourR};
\addplot[blue, line width=1.6bp, dash pattern=on 3bp off 3bp] coordinates {(0.5,1.2e-5)(72,1.2e-5)};
\addplot[mydots, blue] coordinates {(2.9,1e-4)(3.3,1e-4)(12.6,1e-4)(13.2,1e-4)(14,1e-4)(14.8,1e-4)(15.6,1e-4)(16.5,1e-4)(17.7,1e-4)(18.6,1e-4)(37.4,1e-4)(48,1e-4)(49,1e-4)(50,1e-4)(51,1e-4)(52,1e-4)(62,1e-4)(62.8,1e-4)(63.6,1e-4)(64.4,1e-4)(70.5,1e-4)(33.5,2.6e-5)(36.3,2.6e-5)(38.2,2.6e-5)(53.7,2.6e-5)(61.6,2.6e-5)(69.3,2.6e-5)};
\addplot[mydots, red] coordinates {(52.8,1.2e-5)(70,1.2e-5)(71,1.2e-5)};
\end{axis}

% ---------------- Y labels
\node[rotate=90, anchor=center] at (33bp,787bp) {1/(cm\textsuperscript{2} s sr MeV)};
\node[rotate=90, anchor=center] at (433bp,787bp) {1/(cm\textsuperscript{2} s sr MeV)};
\node[rotate=90, anchor=center] at (33bp,571bp) {1/(cm\textsuperscript{2} s sr MeV)};
\node[rotate=90, anchor=center] at (433bp,571bp) {1/(cm\textsuperscript{2} s sr MeV)};
\node[rotate=90, anchor=center] at (33bp,356bp) {1/(cm\textsuperscript{2} s sr MeV/nuc.)};
\node[rotate=90, anchor=center] at (433bp,356bp) {1/(cm\textsuperscript{2} s sr MeV/nuc.)};
\node[rotate=90, anchor=center] at (33bp,138.5bp) {1/(cm\textsuperscript{2} s sr MeV/nuc.)};
\node[rotate=90, anchor=center] at (433bp,138.5bp) {1/(cm\textsuperscript{2} s sr MeV/nuc.)};

% ---------------- Titles
\node[anchor=base west] at (80bp,882bp) {0.035 to 0.065 MeV Electrons};
\node[anchor=base west, text=blue] at (328bp,882bp) {0.7 to 4.0 Mev Electrons};
\node[anchor=base west] at (80bp,668bp) {0.14–0.62 MeV H};
\node[anchor=base west, text=blue] at (224bp,668bp) {0.62–2.22 MeV H};
\node[anchor=base west, text=brn] at (368bp,668bp) {2.2–12 MeV H};
\node[anchor=base west, text=red] at (488bp,668bp) {13–100 MeV H};
\node[anchor=base west] at (80bp,451bp) {0.12–1.08 MeV/n He};
\node[anchor=base west, text=blue] at (248bp,451bp) {0.12–1.08 MeV/n CNO};
\node[anchor=base west, text=red] at (425bp,451bp) {0.12–1.08 MeV Fe};
\node[anchor=base west] at (80bp,233.3bp) {4 to 12 MeV/n He};
\node[anchor=base west, text=blue] at (232bp,233.3bp) {4 to 12 MeV/n CNO};
\node[anchor=base west, text=red] at (393bp,233.3bp) {4 to 12 MeV Fe};
\node[anchor=base west] at (80bp,15bp) {STEREO Behind};
\node[anchor=base west] at (293bp,15bp) {Start: 30–Jun–2013 00:00 UTC};
\node[anchor=base east] at (775bp,15bp) {STEREO Ahead};
\end{tikzpicture}
\end{document}
